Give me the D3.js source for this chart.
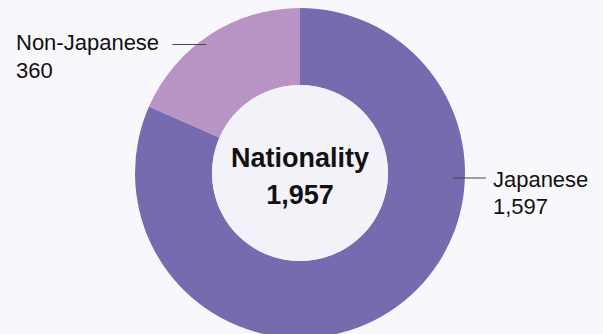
<!DOCTYPE html>
<html>
<head>
<meta charset="utf-8">
<script src="https://cdn.jsdelivr.net/npm/d3@7"></script>
<style>
  html, body { margin: 0; padding: 0; background: #f8f7fc; }
  svg { display: block; font-family: Helvetica, Arial, "Liberation Sans", sans-serif; }
</style>
</head>
<body>
<div id="chart"></div>
<script>
const categories = ["Japanese", "Non-Japanese"];
const values = [1597, 360];
const colors = ["#776bb0", "#b894c4"];
const title = "Nationality";

const width = 603;
const height = 334;
const cx = 300, cy = 173;
const outerR = 165, innerR = 88;

const svg = d3.select("#chart")
  .append("svg")
  .attr("width", width)
  .attr("height", height);

svg.append("rect")
  .attr("width", width)
  .attr("height", height)
  .attr("fill", "#f8f7fc");

const g = svg.append("g").attr("transform", `translate(${cx},${cy})`);

const pie = d3.pie().sort(null).value(d => d.value);
const arc = d3.arc().innerRadius(innerR).outerRadius(outerR);
const data = categories.map((c, i) => ({ name: c, value: values[i], color: colors[i] }));

g.selectAll("path.slice")
  .data(pie(data))
  .join("path")
  .attr("class", "slice")
  .attr("d", arc)
  .attr("fill", d => d.data.color);

// hole
g.append("circle").attr("r", innerR).attr("fill", "#f3f2f8");

const total = d3.sum(values);
const fmt = d3.format(",");

g.append("text")
  .attr("text-anchor", "middle")
  .attr("y", -6)
  .attr("font-size", 27)
  .attr("font-weight", "bold")
  .attr("fill", "#111")
  .text(title);
g.append("text")
  .attr("text-anchor", "middle")
  .attr("y", 31)
  .attr("font-size", 27)
  .attr("font-weight", "bold")
  .attr("fill", "#111")
  .text(fmt(total));

// labels: side, y of leader line, baseline offset of first line
const labelLayout = [
  { side: "right", ly: 178, off: 8.5 },
  { side: "left", ly: 44.5, off: 5.5 }
];

data.forEach((d, i) => {
  const L = labelLayout[i];
  const dy = L.ly - cy;
  const edge = Math.sqrt(outerR * outerR - dy * dy);
  let x1, x2, tx;
  if (L.side === "right") {
    x1 = cx + edge - 12; x2 = x1 + 33; tx = x2 + 7;
  } else {
    x1 = cx - edge + 10; x2 = x1 - 34; tx = 16;
  }
  svg.append("line")
    .attr("x1", x1).attr("x2", x2)
    .attr("y1", L.ly).attr("y2", L.ly)
    .attr("stroke", "#444").attr("stroke-width", 1);
  const t = svg.append("text")
    .attr("font-size", 22)
    .attr("fill", "#111");
  t.append("tspan").attr("x", tx).attr("y", L.ly + L.off).text(d.name);
  t.append("tspan").attr("x", tx).attr("y", L.ly + L.off + 27.5).text(fmt(d.value));
});
</script>
</body>
</html>
